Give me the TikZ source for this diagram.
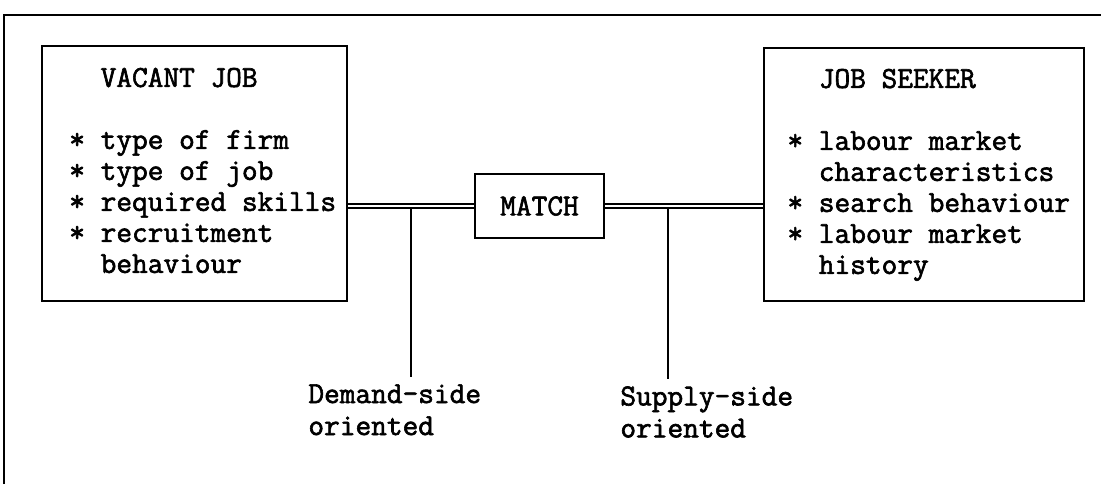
\documentclass[tikz,border=0pt]{standalone}
\usepackage{fontspec}
\setmonofont{Latin Modern Mono}[AutoFakeBold=2]
\usetikzlibrary{positioning}
\newcommand{\typed}[1]{\ttfamily\bfseries\fontsize{15.24}{#1}\selectfont}
\tikzset{card/.style={draw,line width=1.2pt,anchor=north west,inner sep=0pt,font=\typed{15.5}},matchbox/.style={draw,line width=1.2pt,minimum width=64.5pt,minimum height=32pt,font=\typed{15.5}},tag/.style={anchor=north west,align=left,inner xsep=0pt,inner ysep=3.5pt,font=\typed{16}},link/.style={double,line width=.6pt,double distance=1.4pt},stem/.style={line width=1pt},frame/.style={line width=1pt}}

\begin{document}
\begin{tikzpicture}[x=.5pt,y=-.5pt]
  \useasboundingbox (0,0) rectangle (1101,484);
  \draw[frame] (4,484) |- (1101,15);
  \node[card,minimum width=152.5pt,minimum height=127.5pt] (vacant) at (41,45) {\begin{tabular}{@{\hspace{8pt}}l@{}}\phantom{**}VACANT JOB\\[15.5pt]{}* type of firm\\{}* type of job\\{}* required skills\\{}* recruitment\\\phantom{**}behaviour\end{tabular}};
  \node[card,minimum width=160pt,minimum height=126.5pt] (seeker) at (763,47) {\begin{tabular}{@{\hspace{4.5pt}}l@{}}\phantom{**}JOB SEEKER\\[15.5pt]{}* labour market\\\phantom{**}characteristics\\{}* search behaviour\\{}* labour market\\\phantom{**}history\end{tabular}};
  \node[matchbox] (match) at (539.5,206) {MATCH};
  \draw[link] (match.west -| vacant.east) -- coordinate[pos=.5] (dtap) (match.west);
  \draw[link] (match.east) -- coordinate[pos=.4] (stap) (match.east -| seeker.west);
  \node[tag] (demand) at (308,377) {Demand-side\\oriented};
  \node[tag] (supply) at (620,379) {Supply-side\\oriented};
  \draw[stem] ([yshift=-1.3pt]dtap) -- (dtap |- demand.north);
  \draw[stem] ([yshift=-1.3pt]stap) -- (stap |- supply.north);
\end{tikzpicture}
\end{document}
